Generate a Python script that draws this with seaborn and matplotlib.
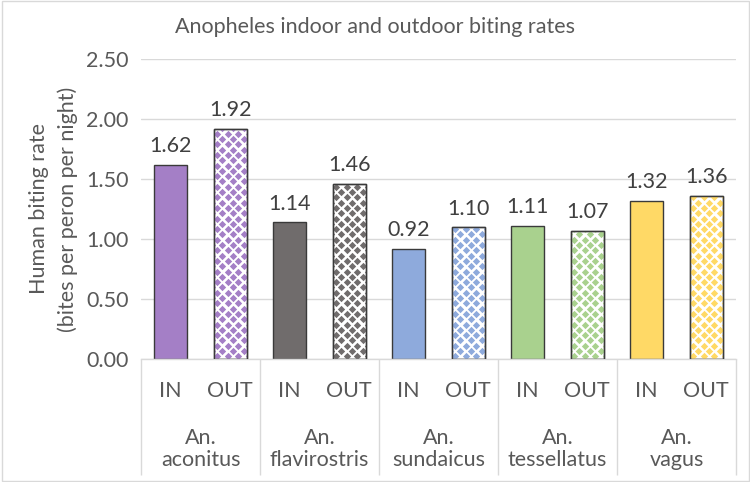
import numpy as np
import pandas as pd
import matplotlib
matplotlib.use("Agg")
import matplotlib.pyplot as plt
from matplotlib.patches import Rectangle
import seaborn as sns

# data
species = ["aconitus", "flavirostris", "sundaicus", "tessellatus", "vagus"]
places = ["IN", "OUT"]
indoor = [1.62, 1.14, 0.92, 1.11, 1.32]
outdoor = [1.92, 1.46, 1.10, 1.07, 1.36]
colors = ["#a47fc6", "#706c6c", "#8eaadc", "#a9d18e", "#ffd966"]

sns.set_style("white")
plt.rcParams["font.family"] = ["Lato", "DejaVu Sans"]
text_col = "#595959"
grid_col = "#d9d9d9"
fs = 15.5

# one row per bar, in drawing order
df = pd.DataFrame({
    "bar": [f"{s} {p}" for s in species for p in places],
    "place": [p for s in species for p in places],
    "rate": [v for pair in zip(indoor, outdoor) for v in pair],
})
bar_colors = [c for c in colors for p in places]

fig = plt.figure(figsize=(7.5, 4.82), dpi=100)
ax = fig.add_axes([141 / 750, 1 - 359 / 482, 595 / 750, 300 / 482])

sns.barplot(data=df, x="bar", y="rate", hue="bar", palette=bar_colors,
            saturation=1, legend=False, width=0.56, ax=ax,
            edgecolor="#3a3a3a", linewidth=1.0, zorder=2)

ax.set_ylim(0, 2.5)
ax.set_yticks(np.arange(0, 2.51, 0.5))
ax.set_yticklabels([f"{v:.2f}" for v in np.arange(0, 2.51, 0.5)])
ax.yaxis.grid(True, color=grid_col, linewidth=1.0, zorder=0)
ax.set_axisbelow(True)
for side in ["left", "right", "top"]:
    ax.spines[side].set_visible(False)
ax.spines["bottom"].set_color(grid_col)
ax.spines["bottom"].set_linewidth(1.0)
ax.tick_params(axis="both", length=0, labelsize=fs, labelcolor=text_col)
ax.tick_params(axis="y", pad=9)
ax.tick_params(axis="x", pad=16)
ax.set_xticks(range(len(df)))
ax.set_xticklabels(df["place"])
ax.set_xlabel("")
ax.set_ylabel("Human biting rate\n(bites per peron per night)", fontsize=fs,
              color=text_col, labelpad=6, linespacing=1.5)
ax.set_xlim(-0.5, len(df) - 0.5)

# diamond pattern for the outdoor bars
dx = 10.6 / 59.5
dy = 5.3 / 120
for i, patch in enumerate(ax.patches):
    if df["place"].iloc[i] != "OUT":
        continue
    col = patch.get_facecolor()
    patch.set_facecolor("white")
    x0, w, h = patch.get_x(), patch.get_width(), patch.get_height()
    xs, ys = [], []
    for k in range(int(h / dy) + 2):
        off = 0 if k % 2 == 0 else dx / 2
        for j in range(-1, int(w / dx) + 2):
            xs.append(x0 + dx / 3 + off + j * dx)
            ys.append(k * dy + dy / 2)
    sc = ax.scatter(xs, ys, marker="D", s=14, color=col, linewidths=0,
                    zorder=2.5)
    sc.set_clip_path(patch)
    ax.add_patch(Rectangle((x0, 0), w, h, fill=False, edgecolor="#3a3a3a",
                           linewidth=1.0, zorder=3))

for cont in ax.containers:
    ax.bar_label(cont, fmt="%.2f", fontsize=fs, color="#404040", padding=6)

# group labels and separators below the axis
trans = ax.get_xaxis_transform()
for g, s in enumerate(species):
    ax.text(2 * g + 0.5, -(449 - 359) / 300, "An.\n" + s, transform=trans,
            ha="center", va="center", fontsize=fs, color=text_col,
            linespacing=1.15)
ax.vlines([-0.5 + 2 * g for g in range(len(species) + 1)], -0.387, 0,
          transform=trans, colors=grid_col, linewidth=1.0, clip_on=False)

fig.text(0.5, 1 - 27 / 482, "Anopheles indoor and outdoor biting rates",
         ha="center", va="center", fontsize=fs, color=text_col)
fig.patches.append(Rectangle((0.002, 0.002), 0.996, 0.996, fill=False,
                             edgecolor=grid_col, linewidth=1.0,
                             transform=fig.transFigure, figure=fig))

fig.savefig("out.png", dpi=100)
